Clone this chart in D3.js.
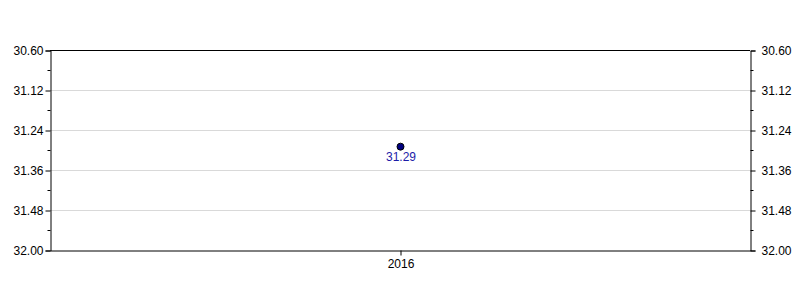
<!DOCTYPE html>
<html>
<head>
<meta charset="utf-8">
<script src="https://cdn.jsdelivr.net/npm/d3@7"></script>
<style>
  body { margin: 0; background: #fff; }
  text { font-family: "Liberation Sans", Arial, sans-serif; font-size: 12px; }
</style>
</head>
<body>
<script>
// data
const years = ["2016"];
const values = [31.29];
const tickValues = [31.00, 31.12, 31.24, 31.36, 31.48, 31.60];
const tickLabels = ["30.60", "31.12", "31.24", "31.36", "31.48", "32.00"];
const minorTicks = [31.06, 31.18, 31.30, 31.42, 31.54];

const width = 800, height = 300;
const margin = { top: 50, right: 50, bottom: 50, left: 50 };

const svg = d3.select("body").append("svg")
  .attr("width", width)
  .attr("height", height);

const x = d3.scalePoint()
  .domain(years)
  .range([margin.left, width - margin.right])
  .padding(0.5);

// y runs downward: small values at the top
const y = d3.scaleLinear()
  .domain([31.0, 31.6])
  .range([margin.top, height - margin.bottom]);

// gridlines
svg.append("g")
  .selectAll("line")
  .data(tickValues.slice(1, -1))
  .enter().append("line")
  .attr("x1", margin.left)
  .attr("x2", width - margin.right)
  .attr("y1", d => Math.round(y(d)) + 0.5)
  .attr("y2", d => Math.round(y(d)) + 0.5)
  .attr("stroke", "#d9d9d9")
  .attr("stroke-width", 1);

// frame top
svg.append("line")
  .attr("x1", margin.left).attr("x2", width - margin.right)
  .attr("y1", margin.top + 0.5).attr("y2", margin.top + 0.5)
  .attr("stroke", "#000");

const fmt = (d, i) => tickLabels[i];

// left axis
const yLeft = svg.append("g")
  .attr("transform", `translate(${margin.left + 0.5},0.5)`)
  .call(d3.axisLeft(y).tickValues(tickValues).tickFormat(fmt).tickSize(5).tickPadding(2));
yLeft.append("g").selectAll("line")
  .data(minorTicks)
  .enter().append("line")
  .attr("x1", -3).attr("x2", 0)
  .attr("y1", d => Math.round(y(d))).attr("y2", d => Math.round(y(d)))
  .attr("stroke", "#000");

// right axis
const yRight = svg.append("g")
  .attr("transform", `translate(${width - margin.right + 0.5},0.5)`)
  .call(d3.axisRight(y).tickValues(tickValues).tickFormat(fmt).tickSize(5).tickPadding(6));
yRight.append("g").selectAll("line")
  .data(minorTicks)
  .enter().append("line")
  .attr("x1", 0).attr("x2", 3)
  .attr("y1", d => Math.round(y(d))).attr("y2", d => Math.round(y(d)))
  .attr("stroke", "#000");

// bottom axis
svg.append("g")
  .attr("transform", `translate(0.5,${height - margin.bottom + 0.5})`)
  .call(d3.axisBottom(x).tickSize(5).tickPadding(4).tickSizeOuter(0));

svg.selectAll(".domain").attr("stroke", "#000");
svg.selectAll(".tick text").attr("fill", "#000").style("font-size", "12px")
  .style("font-family", "'Liberation Sans', Arial, sans-serif");

// point
svg.selectAll(".pt")
  .data(values)
  .enter().append("circle")
  .attr("class", "pt")
  .attr("cx", (d, i) => x(years[i]) + 0.5)
  .attr("cy", d => y(d))
  .attr("r", 3.5)
  .attr("fill", "#000080")
  .attr("stroke", "#000")
  .attr("stroke-width", 1);

svg.selectAll(".lbl")
  .data(values)
  .enter().append("text")
  .attr("class", "lbl")
  .attr("x", (d, i) => x(years[i]) + 1)
  .attr("y", d => y(d) + 14)
  .attr("text-anchor", "middle")
  .attr("fill", "#1c1ca8")
  .text(d => d.toFixed(2));
</script>
</body>
</html>
